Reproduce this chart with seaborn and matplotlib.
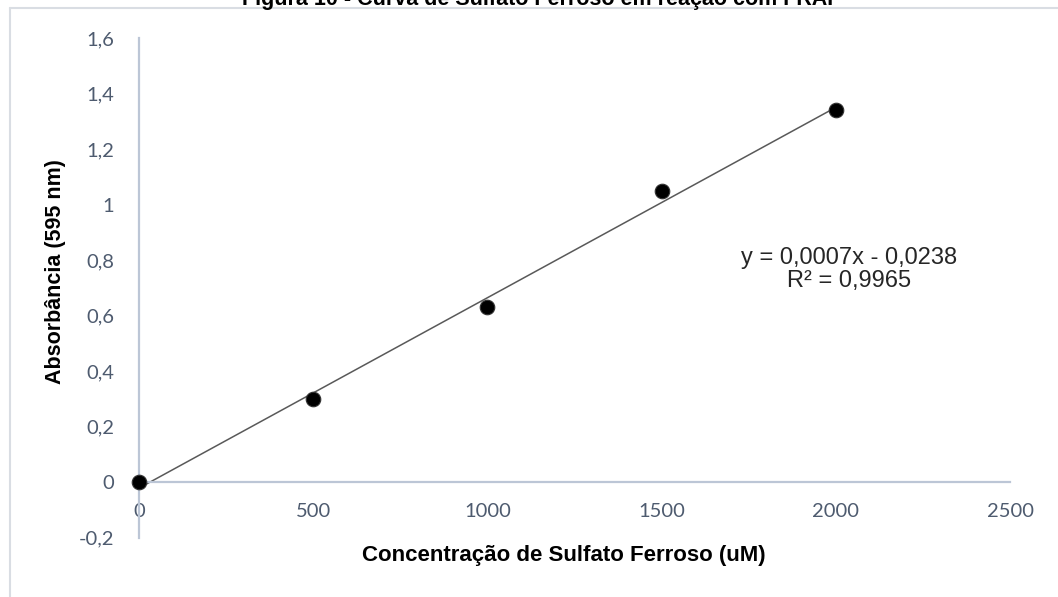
import matplotlib
matplotlib.use("Agg")
import matplotlib.pyplot as plt
import seaborn as sns
import numpy as np
import pandas as pd
from matplotlib.lines import Line2D

# Data
concentration = [0, 500, 1000, 1500, 2000]
absorbance = [0.0, 0.30, 0.63, 1.05, 1.34]
x_ticks = [0, 500, 1000, 1500, 2000, 2500]
y_ticks = [-0.2, 0, 0.2, 0.4, 0.6, 0.8, 1.0, 1.2, 1.4, 1.6]
y_tick_labels = ["-0,2", "0", "0,2", "0,4", "0,6", "0,8", "1", "1,2", "1,4", "1,6"]
equation_text = "y = 0,0007x - 0,0238\nR² = 0,9965"
title_text = "Figura 10 - Curva de Sulfato Ferroso em reação com FRAP"
xlabel_text = "Concentração de Sulfato Ferroso (uM)"
ylabel_text = "Absorbância (595 nm)"

df = pd.DataFrame({"x": concentration, "y": absorbance})

sns.set_style("white")
plt.rcParams["font.family"] = ["Liberation Sans", "DejaVu Sans"]

fig = plt.figure(figsize=(10.58, 5.97), dpi=100)
ax = fig.add_axes([139 / 1058, 1 - 537.5 / 597, (1010 - 139) / 1058, (537.5 - 38) / 597])

# trendline (least squares fit of the data)
coef = np.polyfit(concentration, absorbance, 1)
fit_df = pd.DataFrame({"x": [0, 2000]})
fit_df["y"] = np.polyval(coef, fit_df["x"])
sns.lineplot(data=fit_df, x="x", y="y", ax=ax, color="#595959", linewidth=1.1, zorder=2)

sns.scatterplot(data=df, x="x", y="y", ax=ax, color="black", s=110,
                edgecolor="#333333", linewidth=0.8, zorder=3, clip_on=False)

ax.set_xlim(0, 2500)
ax.set_ylim(-0.2, 1.6)

axis_color = "#BCC6D6"
for s in ["top", "right"]:
    ax.spines[s].set_visible(False)
ax.spines["bottom"].set_position(("data", 0))
ax.spines["bottom"].set_color(axis_color)
ax.spines["left"].set_color(axis_color)
ax.spines["bottom"].set_linewidth(1.6)
ax.spines["left"].set_linewidth(1.6)

tick_color = "#4E5B6F"
ax.set_xticks(x_ticks)
ax.set_xticklabels([str(v) for v in x_ticks])
ax.set_yticks(y_ticks)
ax.set_yticklabels(y_tick_labels)
ax.tick_params(axis="both", length=0, colors=tick_color, labelsize=14.5)
ax.tick_params(axis="x", pad=15)
ax.tick_params(axis="y", pad=18)
for lab in ax.get_xticklabels() + ax.get_yticklabels():
    lab.set_family(["Lato", "DejaVu Sans"])

ax.set_xlabel("")
ax.set_ylabel("")

fig.text(564 / 1058, 1 - 556 / 597, xlabel_text, ha="center", va="center",
         fontsize=16, fontweight="bold", color="black")
fig.text(56 / 1058, 1 - 272 / 597, ylabel_text, ha="center", va="center",
         rotation=90, fontsize=15.5, fontweight="bold", color="black")

ax.text(2039, 0.766, equation_text, ha="center", va="center",
        multialignment="center", fontsize=17, color="#262626", linespacing=1.05)

fig.text(542 / 1058, 1 - 5 / 597, title_text, ha="center", va="baseline",
         fontsize=15.5, fontweight="bold", color="black")

# outer chart-area border (partially visible)
border_color = "#D9DDE3"
fig.add_artist(Line2D([10 / 1058, 10 / 1058], [0, 1 - 8 / 597],
                      transform=fig.transFigure, color=border_color, linewidth=1.5))
fig.add_artist(Line2D([10 / 1058, 1], [1 - 8 / 597, 1 - 8 / 597],
                      transform=fig.transFigure, color=border_color, linewidth=1.5))

fig.savefig("out.png", dpi=100)
